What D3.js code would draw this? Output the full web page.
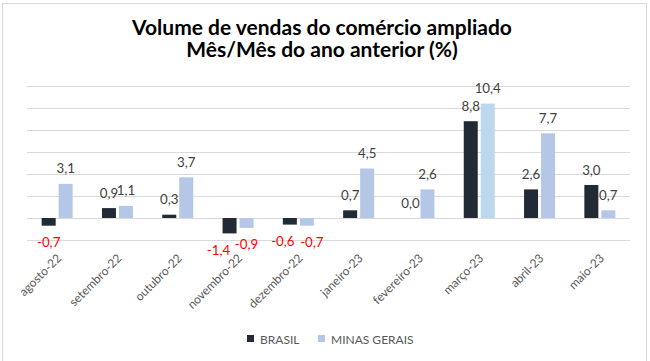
<!DOCTYPE html>
<html>
<head>
<meta charset="utf-8">
<script src="https://cdn.jsdelivr.net/npm/d3@7"></script>
<style>
  body { margin: 0; background: #fff; }
  text { font-family: Lato, "Noto Sans", sans-serif; }
</style>
</head>
<body>
<div id="chart"></div>
<script>
// data
var months = ['agosto-22', 'setembro-22', 'outubro-22', 'novembro-22', 'dezembro-22',
              'janeiro-23', 'fevereiro-23', 'março-23', 'abril-23', 'maio-23'];
var series = ['BRASIL', 'MINAS GERAIS'];
var brasil = [-0.7, 0.9, 0.3, -1.4, -0.6, 0.7, 0.0, 8.8, 2.6, 3.0];
var minas = [3.1, 1.1, 3.7, -0.9, -0.7, 4.5, 2.6, 10.4, 7.7, 0.7];
var yTicks = [-2, 0, 2, 4, 6, 8, 10, 12];
var titleLines = ['Volume de vendas do comércio ampliado', 'Mês/Mês do ano anterior (%)'];

var width = 650, height = 361;
var colors = { 'BRASIL': '#222a35', 'MINAS GERAIS': '#b4c7e7' };

var svg = d3.select('#chart').append('svg')
  .attr('width', width)
  .attr('height', height);

// outer frame
svg.append('rect')
  .attr('x', 2.5).attr('y', 3.5)
  .attr('width', 644).attr('height', 362)
  .attr('fill', 'none')
  .attr('stroke', '#d9d9d9');

// title
svg.append('g').selectAll('text')
  .data(titleLines)
.enter().append('text')
  .attr('x', 322)
  .attr('y', function(d, i) { return 35 + i * 22; })
  .attr('text-anchor', 'middle')
  .style('font-size', '21px')
  .style('font-weight', 'bold')
  .style('fill', '#000')
  .text(function(d) { return d; });

var x = d3.scaleBand().domain(months).range([27, 630]);
var inner = d3.scaleBand().domain(series).range([0, 31]).paddingInner(0.176);
var y = d3.scaleLinear().domain([-2, 12]).range([240, 86]);

// gridlines
svg.append('g').selectAll('line')
  .data(yTicks)
.enter().append('line')
  .attr('x1', 27).attr('x2', 630)
  .attr('y1', function(d) { return Math.round(y(d)) + 0.5; })
  .attr('y2', function(d) { return Math.round(y(d)) + 0.5; })
  .attr('stroke', '#d9d9d9')
  .attr('stroke-width', 1);

var rows = months.map(function(m, i) {
  return [{ month: m, s: 'BRASIL', v: brasil[i] }, { month: m, s: 'MINAS GERAIS', v: minas[i] }];
});

var groups = svg.append('g').selectAll('g')
  .data(rows)
.enter().append('g')
  .attr('transform', function(d) {
    return 'translate(' + (x(d[0].month) + x.bandwidth() / 2 - 15.5) + ',0)';
  });

groups.selectAll('rect')
  .data(function(d) { return d; })
.enter().append('rect')
  .attr('x', function(d) { return inner(d.s); })
  .attr('width', inner.bandwidth())
  .attr('y', function(d) { return y(Math.max(0, d.v)); })
  .attr('height', function(d) { return Math.abs(y(d.v) - y(0)); })
  .attr('fill', function(d) {
    // the março bar for Minas is drawn in a lighter blue in the original
    if (d.s === 'MINAS GERAIS' && d.month === 'março-23') return '#bdd7ee';
    return colors[d.s];
  });

// a few negative labels were nudged sideways in the original
function nudge(d) {
  if (d.month === 'novembro-22' && d.s === 'BRASIL') return -11;
  if (d.month === 'dezembro-22' && d.s === 'BRASIL') return -7;
  if (d.month === 'dezembro-22' && d.s === 'MINAS GERAIS') return 5;
  return 0;
}

groups.selectAll('text')
  .data(function(d) { return d; })
.enter().append('text')
  .attr('x', function(d) { return inner(d.s) + inner.bandwidth() / 2 + nudge(d); })
  .attr('y', function(d) {
    return d.v < 0 ? y(d.v) + 21.5 : y(d.v) - 10.5;
  })
  .attr('text-anchor', 'middle')
  .style('font-size', '13.3px')
  .style('fill', function(d) { return d.v < 0 ? '#ff0000' : '#404040'; })
  .text(function(d) { return d.v.toFixed(1).replace('.', ','); });

// category labels, rotated
svg.append('g').selectAll('text')
  .data(months)
.enter().append('text')
  .attr('transform', function(d) {
    return 'translate(' + (x(d) + x.bandwidth() / 2 + 5) + ',259) rotate(-45)';
  })
  .attr('text-anchor', 'end')
  .style('font-size', '12px')
  .style('fill', '#595959')
  .text(function(d) { return d; });

// legend
var legendX = [247, 318];
var legend = svg.append('g').selectAll('g')
  .data(series)
.enter().append('g')
  .attr('transform', function(d, i) { return 'translate(' + legendX[i] + ',335)'; });

legend.append('rect')
  .attr('width', 7).attr('height', 7)
  .attr('fill', function(d) { return colors[d]; });

legend.append('text')
  .attr('x', 13).attr('y', 8.5)
  .style('font-size', '12px')
  .style('fill', '#595959')
  .text(function(d) { return d; });
</script>
</body>
</html>
